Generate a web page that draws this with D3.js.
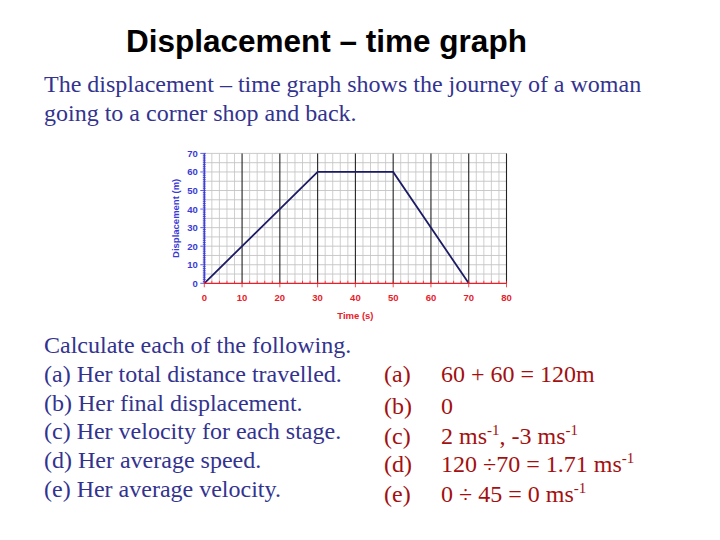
<!DOCTYPE html>
<html><head><meta charset="utf-8">
<script src="https://cdn.jsdelivr.net/npm/d3@7"></script>
<style>html,body{margin:0;padding:0;background:#fff;}</style>
</head><body>
<svg id="c" width="720" height="540"></svg>
<script>
const times = [0, 30, 50, 70];
const displacement = [0, 60, 60, 0];
const xTicks = [0, 10, 20, 30, 40, 50, 60, 70, 80];
const yTicks = [0, 10, 20, 30, 40, 50, 60, 70];
const questions = ["Calculate each of the following.", "(a) Her total distance travelled.", "(b) Her final displacement.", "(c) Her velocity for each stage.", "(d) Her average speed.", "(e) Her average velocity."];
const answerLabels = ["(a)", "(b)", "(c)", "(d)", "(e)"];
const answers = [
  [["60 + 60 = 120m", 0]],
  [["0", 0]],
  [["2 ms", 0], ["-1", 1], [", -3 ms", 0], ["-1", 1]],
  [["120 \u00f770 = 1.71 ms", 0], ["-1", 1]],
  [["0 \u00f7 45 = 0 ms", 0], ["-1", 1]]
];

const svg = d3.select("#c");
const x = d3.scaleLinear().domain([0, 80]).range([204.3, 506.5]);
const y = d3.scaleLinear().domain([0, 70]).range([283.3, 153.4]);

const serif = "Liberation Serif, Times New Roman, serif";
const sans = "Liberation Sans, Arial, sans-serif";

// title
svg.append("text").attr("x", 126).attr("y", 52)
  .attr("font-family", sans).attr("font-weight", "bold")
  .attr("font-size", 31.5).attr("fill", "#000").text("Displacement \u2013 time graph");

const blue = "#33338f";
const para = ["The displacement \u2013 time graph shows the journey of a woman", "going to a corner shop and back."];
para.forEach((t, i) => svg.append("text").attr("x", 44).attr("y", 92 + i * 29)
  .attr("font-family", serif).attr("font-size", 24)
  .attr("fill", blue).text(t));

// grid
const g = svg.append("g");
const minorX = d3.range(0, 81, 2).filter(v => v % 10 !== 0);
g.selectAll(".vx").data(minorX).enter().append("line")
  .attr("x1", d => x(d)).attr("x2", d => x(d)).attr("y1", y(0)).attr("y2", y(70))
  .attr("stroke", "#cacaca").attr("stroke-width", 0.9);
const hLines = d3.range(5, 71, 5);
g.selectAll(".hy").data(hLines).enter().append("line")
  .attr("x1", x(0)).attr("x2", x(80)).attr("y1", d => y(d)).attr("y2", d => y(d))
  .attr("stroke", "#c4c4c4").attr("stroke-width", 0.9);
g.selectAll(".mx").data(xTicks.filter(d => d > 0)).enter().append("line")
  .attr("x1", d => x(d)).attr("x2", d => x(d)).attr("y1", y(0)).attr("y2", y(70))
  .attr("stroke", "#222").attr("stroke-width", 1.1);

// data line
const line = d3.line().x((d, i) => x(times[i])).y(d => y(d));
svg.append("path").datum(displacement).attr("d", line)
  .attr("fill", "none").attr("stroke", "#1c1c66").attr("stroke-width", 1.8);

// y axis (blue)
const yc = "#3a3ad6";
const yAxis = svg.append("g").attr("transform", `translate(${x(0)},0)`);
yAxis.append("line").attr("x1", 0).attr("x2", 0).attr("y1", y(0)).attr("y2", y(70))
  .attr("stroke", yc).attr("stroke-width", 1.3);
yAxis.selectAll(".ym").data(d3.range(0, 71, 1)).enter().append("line")
  .attr("x1", d => d % 10 === 0 ? -4 : -1.5).attr("x2", 1.5).attr("y1", d => y(d)).attr("y2", d => y(d))
  .attr("stroke", yc).attr("stroke-width", 0.8);
yAxis.selectAll(".yl").data(yTicks).enter().append("text")
  .attr("x", -6.5).attr("y", d => y(d) + 3.5).attr("text-anchor", "end")
  .attr("font-family", sans).attr("font-weight", "bold")
  .attr("font-size", 9.5).attr("fill", yc).text(d => d);
svg.append("text").attr("transform", `translate(179,${y(35)}) rotate(-90)`)
  .attr("text-anchor", "middle").attr("font-family", sans)
  .attr("font-weight", "bold").attr("font-size", 9.5).attr("fill", yc).text("Displacement (m)");

// x axis (red)
const xc = "#e8202a";
const xAxis = svg.append("g").attr("transform", `translate(0,${y(0)})`);
xAxis.append("line").attr("x1", x(0)).attr("x2", x(80)).attr("y1", 0).attr("y2", 0)
  .attr("stroke", xc).attr("stroke-width", 1.3);
xAxis.selectAll(".xm").data(d3.range(0, 81, 2)).enter().append("line")
  .attr("x1", d => x(d)).attr("x2", d => x(d)).attr("y1", d => d % 10 === 0 ? 4 : 0).attr("y2", -2.5)
  .attr("stroke", xc).attr("stroke-width", 0.8);
xAxis.selectAll(".xl").data(xTicks).enter().append("text")
  .attr("x", d => x(d)).attr("y", 18).attr("text-anchor", "middle")
  .attr("font-family", sans).attr("font-weight", "bold")
  .attr("font-size", 9.5).attr("fill", xc).text(d => d);
svg.append("text").attr("x", x(40)).attr("y", 318.5).attr("text-anchor", "middle")
  .attr("font-family", sans).attr("font-weight", "bold")
  .attr("font-size", 9.5).attr("fill", xc).text("Time (s)");

// questions
questions.forEach((t, i) => svg.append("text").attr("x", 44).attr("y", 353 + i * 28.8)
  .attr("font-family", serif).attr("font-size", 24)
  .attr("fill", blue).text(t));

// answers
const red = "#a31010";
const ansY = [381.5, 414, 443.5, 472, 501.5];
answerLabels.forEach((lab, i) => {
  svg.append("text").attr("x", 384).attr("y", ansY[i])
    .attr("font-family", serif).attr("font-size", 24)
    .attr("fill", red).text(lab);
  const t = svg.append("text").attr("x", 441).attr("y", ansY[i])
    .attr("font-family", serif).attr("font-size", 24)
    .attr("fill", red);
  let prevSup = false;
  answers[i].forEach(([s, sup]) => {
    const ts = t.append("tspan").text(s);
    if (sup) ts.attr("font-size", 15).attr("dy", -9);
    else ts.attr("dy", prevSup ? 9 : 0);
    prevSup = !!sup;
  });
});
</script>
</body></html>
